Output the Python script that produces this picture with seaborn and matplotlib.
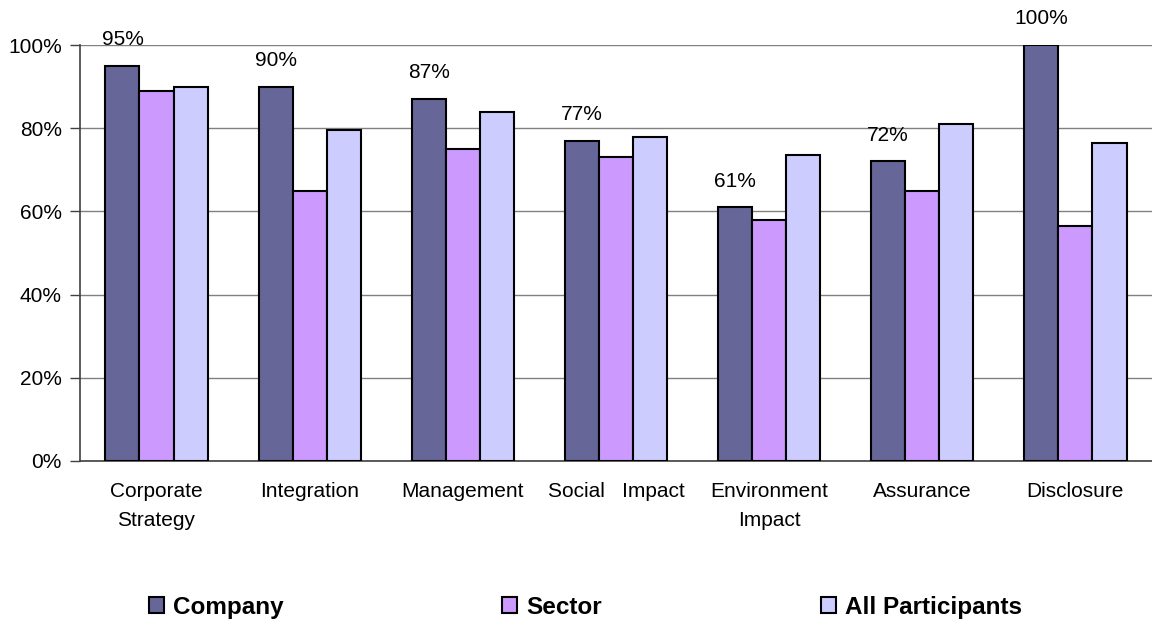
import matplotlib
matplotlib.use("Agg")
import matplotlib.pyplot as plt
import seaborn as sns
import pandas as pd

# Data (percent)
categories = ["Corporate\nStrategy", "Integration", "Management", "Social   Impact",
              "Environment\nImpact", "Assurance", "Disclosure"]
company = [95, 90, 87, 77, 61, 72, 100]
sector = [89, 65, 75, 73, 58, 65, 56.5]
all_participants = [90, 79.5, 84, 78, 73.5, 81, 76.5]
series = ["Company", "Sector", "All Participants"]
colors = ["#666699", "#CC99FF", "#CCCCFF"]

df = pd.DataFrame({
    "category": categories * 3,
    "series": [series[0]] * 7 + [series[1]] * 7 + [series[2]] * 7,
    "value": company + sector + all_participants,
})

sns.set_theme(style="white")
plt.rcParams["font.family"] = ["Liberation Sans", "DejaVu Sans"]
plt.rcParams["text.color"] = "black"
plt.rcParams["xtick.color"] = "black"
plt.rcParams["ytick.color"] = "black"

fig = plt.figure(figsize=(11.52, 6.26), dpi=100)
ax = fig.add_axes([0.0694, 0.2636, 0.9306, 0.6645])

sns.barplot(data=df, x="category", y="value", hue="series", palette=colors,
            width=0.667, gap=0, edgecolor="black", linewidth=1.5, saturation=1,
            ax=ax, zorder=3)

# labels above company bars
ax.bar_label(ax.containers[0], labels=[f"{v:.0f}%" for v in company],
             padding=12, fontsize=15)

ax.set_ylim(0, 100)
ax.set_xlim(-0.5, 6.5)
ax.set_yticks([0, 20, 40, 60, 80, 100])
ax.set_yticklabels([f"{t}%" for t in [0, 20, 40, 60, 80, 100]], fontsize=15)
ax.tick_params(axis="x", labelsize=15, length=0, pad=15)
for lbl in ax.get_xticklabels():
    lbl.set_linespacing(1.7)
ax.tick_params(axis="y", length=7, width=1, color="#404040", direction="out", left=True, pad=6)
ax.yaxis.grid(True, color="#808080", linewidth=1, zorder=0)
ax.set_axisbelow(True)
ax.set_xlabel("")
ax.set_ylabel("")
for side in ["top", "right"]:
    ax.spines[side].set_visible(False)
for side in ["left", "bottom"]:
    ax.spines[side].set_color("#404040")
    ax.spines[side].set_linewidth(1.2)

ax.legend_.remove()
handles, labels = ax.get_legend_handles_labels()
fig.legend(handles, labels, loc="center", bbox_to_anchor=(0.508, 0.030), ncol=3,
           frameon=False, prop={"weight": "bold", "size": 17.5},
           handlelength=0.62, handleheight=0.62, handletextpad=0.37,
           columnspacing=9.0)

fig.savefig("out.png", dpi=100)
